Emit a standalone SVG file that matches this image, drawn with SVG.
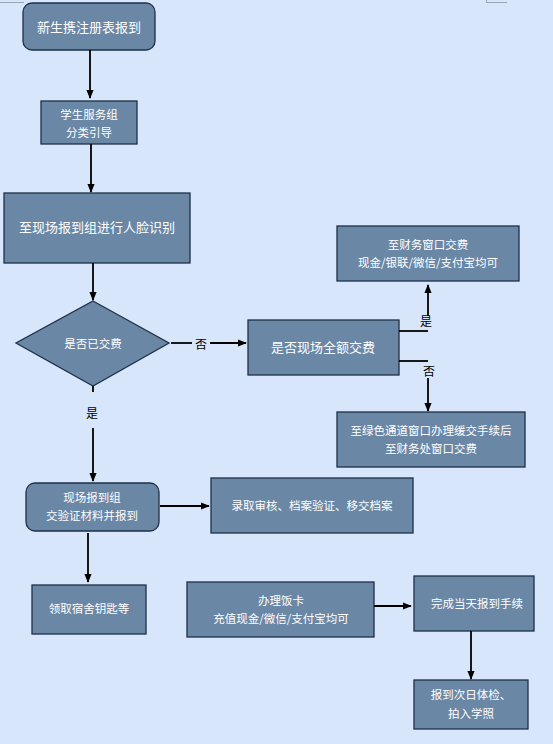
<svg xmlns="http://www.w3.org/2000/svg" width="553" height="744" viewBox="0 0 553 744">
<style>
.n{fill:#6a87a6;stroke:#1e3148;stroke-width:1.3}
.t{fill:#ffffff;font-family:"Noto Sans CJK SC","Noto Sans",sans-serif;font-size:11.5px;text-anchor:middle}
.tl{font-size:13px}
.c{stroke:#000;stroke-width:1.8;fill:none}
.lb{fill:#000;font-family:"Noto Sans CJK SC","Noto Sans",sans-serif;font-size:12px;text-anchor:middle}
</style>
<defs>
<marker id="a" viewBox="0 0 10 10" refX="9" refY="5" markerWidth="5" markerHeight="5" orient="auto"><path d="M0,1 L10,5 L0,9 z" fill="#000"/></marker>
</defs>
<rect width="553" height="744" fill="#d7e6fa"/>
<g stroke="#9aa6b4" stroke-width="1" fill="none"><path d="M0,2.5 H24"/><path d="M486.5,0 V3 M486,2.5 H507"/></g>
<g id="n1"><rect class="n" x="23" y="3" width="132" height="47" rx="9"/><text class="t tl" x="89" y="32">新生携注册表报到</text></g>
<g id="n2"><rect class="n" x="41" y="101" width="96" height="43"/><text class="t" x="89" y="119">学生服务组</text><text class="t" x="89" y="137">分类引导</text></g>
<g id="n3"><rect class="n" x="4" y="193" width="186" height="70"/><text class="t tl" x="97" y="232">至现场报到组进行人脸识别</text></g>
<g id="n4"><path class="n" d="M93,301 L169,343 L93,386 L16,343 Z"/><text class="t" x="93" y="348">是否已交费</text></g>
<g id="n5"><rect class="n" x="248" y="320" width="151" height="55"/><text class="t tl" x="323" y="352">是否现场全额交费</text></g>
<g id="n6"><rect class="n" x="337" y="226" width="182" height="55"/><text class="t" x="428" y="249">至财务窗口交费</text><text class="t" x="428" y="267">现金/银联/微信/支付宝均可</text></g>
<g id="n7"><rect class="n" x="337" y="412" width="188" height="55"/><text class="t" x="431" y="435">至绿色通道窗口办理缓交手续后</text><text class="t" x="431" y="453">至财务处窗口交费</text></g>
<g id="n8"><rect class="n" x="26" y="483" width="133" height="48" rx="9"/><text class="t" x="92" y="502">现场报到组</text><text class="t" x="92" y="520">交验证材料并报到</text></g>
<g id="n9"><rect class="n" x="211" y="478" width="202" height="55"/><text class="t" x="312" y="510">录取审核、档案验证、移交档案</text></g>
<g id="n10"><rect class="n" x="32" y="585" width="114" height="49"/><text class="t" x="89" y="613">领取宿舍钥匙等</text></g>
<g id="n11"><rect class="n" x="187" y="582" width="187" height="55"/><text class="t" x="281" y="605">办理饭卡</text><text class="t" x="281" y="623">充值现金/微信/支付宝均可</text></g>
<g id="n12"><rect class="n" x="414" y="576" width="120" height="55"/><text class="t" x="477" y="608">完成当天报到手续</text></g>
<g id="n13"><rect class="n" x="414" y="680" width="114" height="49"/><text class="t" x="471" y="699">报到次日体检、</text><text class="t" x="471" y="718">拍入学照</text></g>
<g id="connectors">
<path class="c" d="M90,50 V98" marker-end="url(#a)"/>
<path class="c" d="M91,144 V192" marker-end="url(#a)"/>
<path class="c" d="M93,263 V300" marker-end="url(#a)"/>
<path class="c" d="M171,343 H192"/>
<text class="lb" x="201" y="349">否</text>
<path class="c" d="M210,343 H246" marker-end="url(#a)"/>
<path class="c" d="M399,331 H428"/>
<path class="c" d="M428,316 V285" marker-end="url(#a)"/>
<text class="lb" x="426" y="326">是</text>
<path class="c" d="M399,361 H428"/>
<text class="lb" x="429" y="376">否</text>
<path class="c" d="M428,378 V411" marker-end="url(#a)"/>
<path class="c" d="M93,386 V392"/>
<text class="lb" x="92" y="418">是</text>
<path class="c" d="M93,428 V481" marker-end="url(#a)"/>
<path class="c" d="M160,506 H209" marker-end="url(#a)"/>
<path class="c" d="M88,533 V582" marker-end="url(#a)"/>
<path class="c" d="M374,606 H411" marker-end="url(#a)"/>
<path class="c" d="M471,631 V679" marker-end="url(#a)"/>
</g>
</svg>
